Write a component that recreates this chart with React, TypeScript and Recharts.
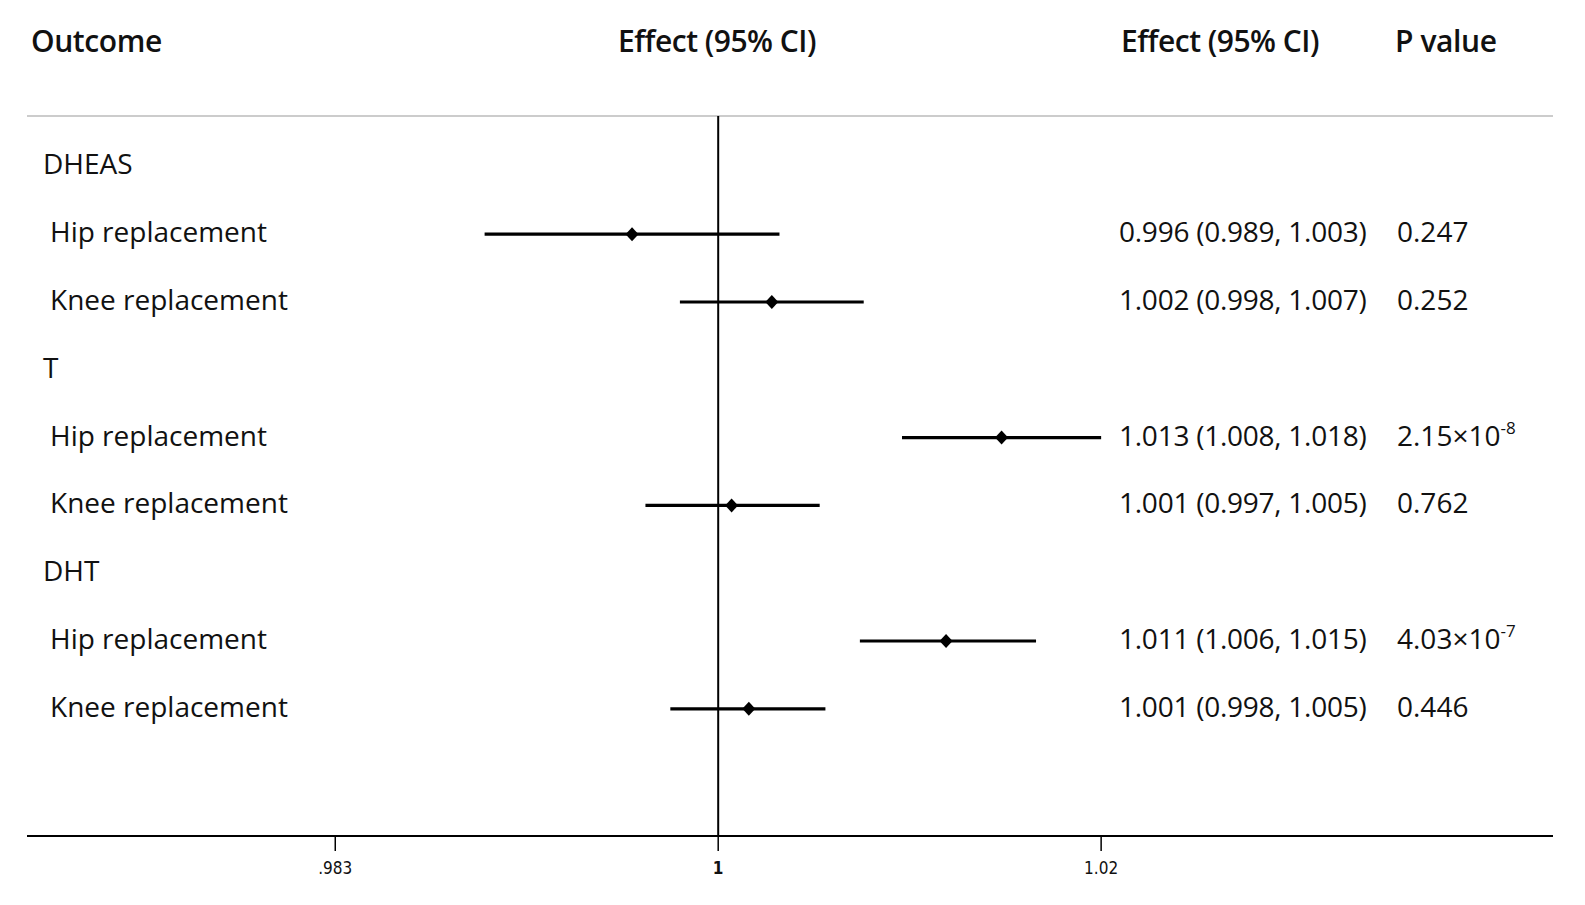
import React from "react";
import {
  ScatterChart,
  Scatter,
  XAxis,
  YAxis,
  ErrorBar,
  ReferenceLine,
} from "recharts";

// groups and outcomes, top to bottom
const hormones = ["DHEAS", "T", "DHT"];
const outcomes = ["Hip replacement", "Knee replacement"];

// plotted estimates and CI bounds
const estimate = [0.9955, 1.0028, 1.0148, 1.0007, 1.0119, 1.0016];
const lower = [0.9878, 0.998, 1.0096, 0.9962, 1.0074, 0.9975];
const upper = [1.0032, 1.0076, 1.02, 1.0053, 1.0166, 1.0056];

// printed columns
const effectText = [
  "0.996 (0.989, 1.003)",
  "1.002 (0.998, 1.007)",
  "1.013 (1.008, 1.018)",
  "1.001 (0.997, 1.005)",
  "1.011 (1.006, 1.015)",
  "1.001 (0.998, 1.005)",
];
const pBase = ["0.247", "0.252", "2.15×10", "0.762", "4.03×10", "0.446"];
const pExp = ["", "", "-8", "", "-7", ""];

const xTicks = [0.98, 1, 1.02];
const xTickLabels = [".983", "1", "1.02"];

const headers = ["Outcome", "Effect (95% CI)", "Effect (95% CI)", "P value"];

// build row table: header row per hormone, then one row per outcome
type Row = { label: string; isHeader: boolean; k: number };
const rows: Row[] = [];
hormones.forEach((h, hi) => {
  rows.push({ label: h, isHeader: true, k: -1 });
  outcomes.forEach((o, oi) => {
    rows.push({ label: o, isHeader: false, k: hi * outcomes.length + oi });
  });
});

const points = rows
  .map((r, i) => ({ r, i }))
  .filter(({ r }) => !r.isHeader)
  .map(({ r, i }) => ({
    y: i,
    x: estimate[r.k],
    err: [estimate[r.k] - lower[r.k], upper[r.k] - estimate[r.k]],
  }));

// one entry per row, used only to place the text columns on the y scale
const labelPoints = rows.map((r, i) => ({ y: i, x: 1, row: r }));

const FONT = "'Open Sans', 'Noto Sans', sans-serif";
const W = 1585;
const H = 905;

function Diamond(props: any) {
  const { cx, cy } = props;
  if (cx == null || cy == null) return null;
  const w = 6.5,
    h = 7;
  return (
    <polygon
      points={`${cx},${cy - h} ${cx + w},${cy} ${cx},${cy + h} ${cx - w},${cy}`}
      fill="#000"
    />
  );
}

function RowText(props: any) {
  const { cy, payload } = props;
  const row: Row | undefined = payload?.row;
  if (!row || cy == null) return null;
  const base = cy + 8;
  return (
    <g>
      <text
        x={row.isHeader ? 43 : 50}
        y={base}
        fontFamily={FONT}
        fontSize={28}
        fill="#111"
      >
        {row.label}
      </text>
      {!row.isHeader && (
        <>
          <text
            x={1119}
            y={base}
            fontFamily={FONT}
            fontSize={28}
            letterSpacing={-0.25}
            fill="#111"
          >
            {effectText[row.k]}
          </text>
          <text x={1397} y={base} fontFamily={FONT} fontSize={28} fill="#111">
            {pBase[row.k]}
            {pExp[row.k] && (
              <tspan fontSize={17} dy={-12}>
                {pExp[row.k]}
              </tspan>
            )}
          </text>
        </>
      )}
    </g>
  );
}

function AxisTick(props: any) {
  const { x, y, payload } = props;
  const idx = xTicks.indexOf(payload.value);
  return (
    <text
      x={x}
      y={y + 21}
      textAnchor="middle"
      fontFamily="'Liberation Sans Narrow', 'DejaVu Sans Condensed', sans-serif"
      fontSize={17}
      fontWeight={payload.value === 1 ? 700 : 400}
      fill="#111"
    >
      {xTickLabels[idx]}
    </text>
  );
}

export default function App() {
  return (
    <div
      style={{
        position: "absolute",
        left: 0,
        top: 0,
        width: W,
        height: H,
        background: "#fff",
      }}
    >
      <svg
        width={W}
        height={H}
        style={{ position: "absolute", left: 0, top: 0 }}
      >
        <g fontFamily={FONT} fontSize={30} fontWeight={600} fill="#111">
          <text x={31} y={52} letterSpacing={-0.4}>
            {headers[0]}
          </text>
          <text x={717} y={52} textAnchor="middle" letterSpacing={-0.5}>
            {headers[1]}
          </text>
          <text x={1121} y={52} letterSpacing={-0.5}>
            {headers[2]}
          </text>
          <text x={1395} y={52} letterSpacing={-0.4}>
            {headers[3]}
          </text>
        </g>
      </svg>
      <div style={{ position: "absolute", left: 0, top: 0 }}>
        <ScatterChart
          width={W}
          height={H}
          margin={{ top: 116, right: 32, bottom: 29, left: 27 }}
        >
          <XAxis
            type="number"
            dataKey="x"
            domain={[0.9639, 1.0436]}
            allowDataOverflow
            ticks={xTicks}
            interval={0}
            height={40}
            tickSize={15}
            axisLine={{ stroke: "#000", strokeWidth: 2 }}
            tickLine={{ stroke: "#000", strokeWidth: 1.5 }}
            tick={(p: any) => <AxisTick {...p} />}
          />
          <YAxis
            type="number"
            dataKey="y"
            domain={[-0.743, 9.876]}
            allowDataOverflow
            reversed
            hide
          />
          <ReferenceLine y={-0.743} stroke="#cccccc" strokeWidth={2} />
          <ReferenceLine x={1} stroke="#000" strokeWidth={2} />
          <Scatter
            data={labelPoints}
            shape={(p: any) => <RowText {...p} />}
            isAnimationActive={false}
          />
          <Scatter
            data={points}
            shape={(p: any) => <Diamond {...p} />}
            isAnimationActive={false}
          >
            <ErrorBar
              dataKey="err"
              direction="x"
              width={0}
              stroke="#000"
              strokeWidth={3.2}
              isAnimationActive={false}
            />
          </Scatter>
        </ScatterChart>
      </div>
    </div>
  );
}
